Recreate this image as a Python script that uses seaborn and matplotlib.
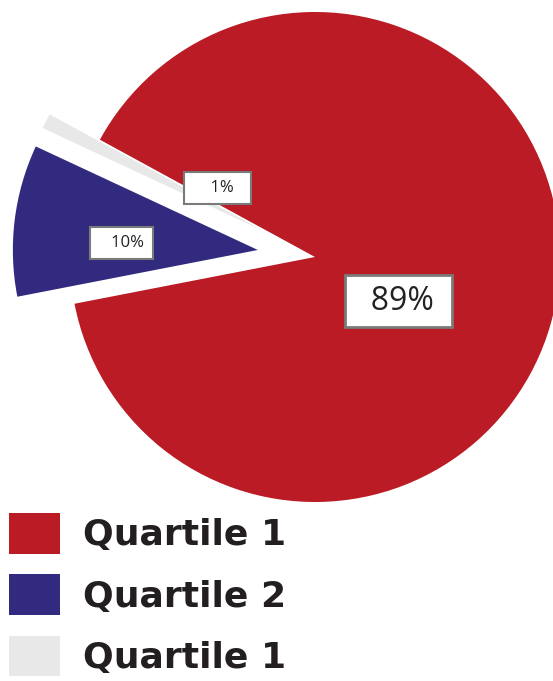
import matplotlib.pyplot as plt
import matplotlib.patches as patches
import seaborn as sns

sns.set_style("white")

# data
labels = ['Quartile 1', 'Quartile 1', 'Quartile 2']   # red, grey, blue
shares = [89, 1, 10]          # drawn counter-clockwise
pct_text = ['  89% ', '    1%  ', '   10%']
legend_order = [0, 2, 1]      # red, blue, grey in the legend
colors = ['#BA1B25', '#E8E8E8', '#312A7F']
explode = [0, 0.23, 0.235]

# label box centres in axis units (pie centre = 0,0)
pct_pos = [(0.340, -0.18), (-0.398, 0.282), (-0.790, 0.057)]
pct_size = [23, 12, 12]
pct_pad = [0.3, 0.5, 0.5]

fig = plt.figure(figsize=(5.53, 6.81), dpi=100)
ax = fig.add_axes([0, 0, 1, 1])

wedges, texts, autotexts = ax.pie(shares, colors=colors, explode=explode,
                                  startangle=-169, counterclock=True,
                                  radius=1.0, autopct='%d%%',
                                  wedgeprops=dict(linewidth=0))

for t, s, pos, fs, pd_ in zip(autotexts, pct_text, pct_pos, pct_size, pct_pad):
    t.set_text(s)
    t.set_position(pos)
    t.set_fontsize(fs)
    t.set_color('#222222')
    t.set_fontfamily('Open Sans')
    t.set_bbox(dict(boxstyle='square,pad=%.2f' % pd_, facecolor='white',
                    edgecolor='#7a7a7a', linewidth=2 if fs > 15 else 1.5))

# centre of the pie sits at (315, 257) px, radius 245 px
r_px = 245.0
ax.set_xlim(-315 / r_px, (553 - 315) / r_px)
ax.set_ylim(-(681 - 257) / r_px, 257 / r_px)
ax.set_aspect('auto')
ax.axis('off')

handles = [patches.Patch(facecolor=colors[i], edgecolor='none') for i in legend_order]
leg_labels = [labels[i] for i in legend_order]
leg = fig.legend(handles=handles, labels=leg_labels, loc='upper left',
                 bbox_to_anchor=(9 / 553, 1 - 513 / 681), frameon=False,
                 handlelength=1.41, handleheight=1.35, handletextpad=0.64,
                 labelspacing=0.58, borderaxespad=0, borderpad=0,
                 prop=dict(family='DejaVu Sans', weight='bold', size=26))
for t in leg.get_texts():
    t.set_color('#231F20')

plt.savefig('out.png', dpi=100)
